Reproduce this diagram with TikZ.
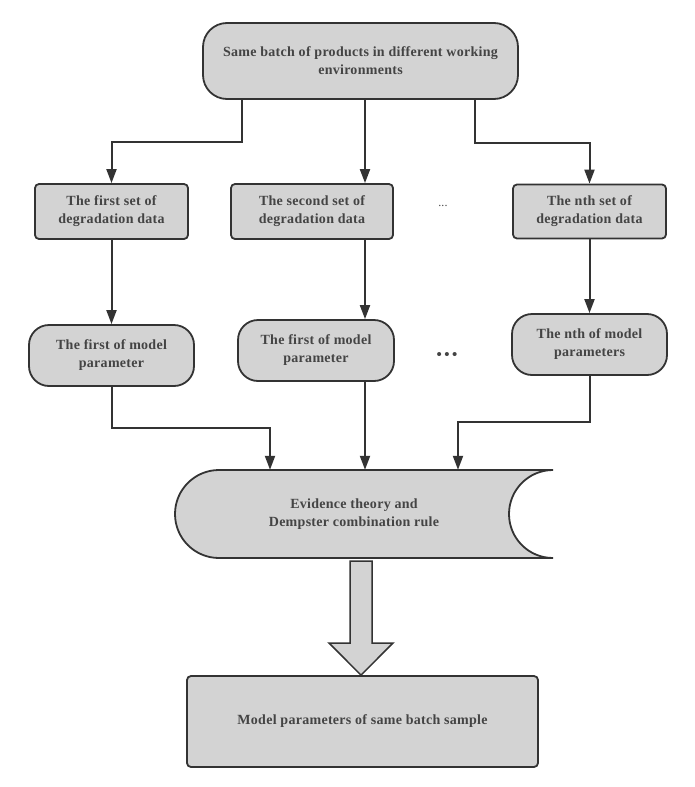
\documentclass[tikz,border=0pt]{standalone}
\usepackage{fontspec}
\setmainfont{Liberation Serif}[LetterSpace=2]
\usetikzlibrary{arrows.meta}
\definecolor{boxfill}{RGB}{211,211,211}
\definecolor{linec}{RGB}{51,51,51}
\definecolor{textc}{RGB}{68,68,68}
\begin{document}
\begin{tikzpicture}[x=1pt,y=1pt,
  box/.style={draw=linec, line width=1.8pt, fill=boxfill, text=textc,
    font=\bfseries\fontsize{14}{18}\selectfont, align=center, inner sep=0pt},
  sqbox/.style={box, rounded corners=4pt},
  pillbox/.style={box, rounded corners=20pt, minimum height=61pt},
  conn/.style={draw=linec, line width=2pt, -{Triangle[length=14pt,width=10pt]}},
  dots/.style={text=textc, inner sep=0pt}]
\useasboundingbox (0,0) rectangle (695,-787);
% top
\node[box, rounded corners=24pt, minimum width=315pt, minimum height=76pt] (top) at (360.5,-61)
  {Same batch of products in different working\\environments};
% data boxes
\node[sqbox, minimum width=153pt, minimum height=55pt] (d1) at (111.5,-211.5) {The first set of\\degradation data};
\node[sqbox, minimum width=162pt, minimum height=55pt] (d2) at (312,-211.5) {The second set of\\degradation data};
\node[sqbox, minimum width=153pt, minimum height=54pt] (d3) at (589.5,-211.5) {The nth set of\\degradation data};
\node[dots, font=\fontsize{12}{12}\selectfont] (dotsa) at (443,-206) {...};
% model boxes
\node[pillbox, minimum width=165pt] (m1) at (111.5,-355.5) {The first of model\\parameter};
\node[pillbox, minimum width=156pt] (m2) at (316,-350.5) {The first of model\\parameter};
\node[pillbox, minimum width=155pt] (m3) at (589.5,-344.5) {The nth of model\\parameters};
\node[dots, font=\bfseries\fontsize{15}{15}\selectfont] (dotsb) at (447,-356) {•\,•\,•};
% evidence shape
\node[inner sep=0pt, minimum width=378pt, minimum height=88pt] (ev) at (364,-514) {};
\draw[draw=linec, line width=1.8pt, fill=boxfill]
  (219,-470) -- (553,-470) arc[start angle=90, end angle=270, radius=44]
  -- (219,-558) arc[start angle=270, end angle=90, radius=44] -- cycle;
\node[text=textc, font=\bfseries\fontsize{14}{18}\selectfont, align=center, inner sep=0pt] (evt) at (354,-514)
  {Evidence theory and\\Dempster combination rule};
% result
\node[sqbox, minimum width=351pt, minimum height=91pt] (res) at (362.5,-721.5) {Model parameters of same batch sample};
% connectors
\coordinate (col) at (365,0);
\coordinate (c1) at (242,-142);
\coordinate (c3) at (475,-143);
\coordinate (e1) at (270,-428);
\coordinate (e3) at (458,-422);
\draw[conn] (top.south -| c1) -- (c1) -| (d1.north);
\draw[conn] (top.south -| col) -- (d2.north -| col);
\draw[conn] (top.south -| c3) -- (c3) -| (d3.north);
\draw[conn] (d1.south) -- (m1.north);
\draw[conn] (d2.south -| col) -- (m2.north -| col);
\draw[conn] (d3.south) -- (m3.north);
\draw[conn] (m1.south) |- (e1) -- (e1 |- ev.north);
\draw[conn] (m2.south -| col) -- (ev.north -| col);
\draw[conn] (m3.south) |- (e3) -- (e3 |- ev.north);
% block arrow
\draw[draw=linec, line width=1.5pt, fill=boxfill, line join=miter]
  (350,-561) -- (372,-561) -- (372,-643) -- (393,-643) -- (res.north -| 361,0) -- (329,-643) -- (350,-643) -- cycle;
\end{tikzpicture}
\end{document}
